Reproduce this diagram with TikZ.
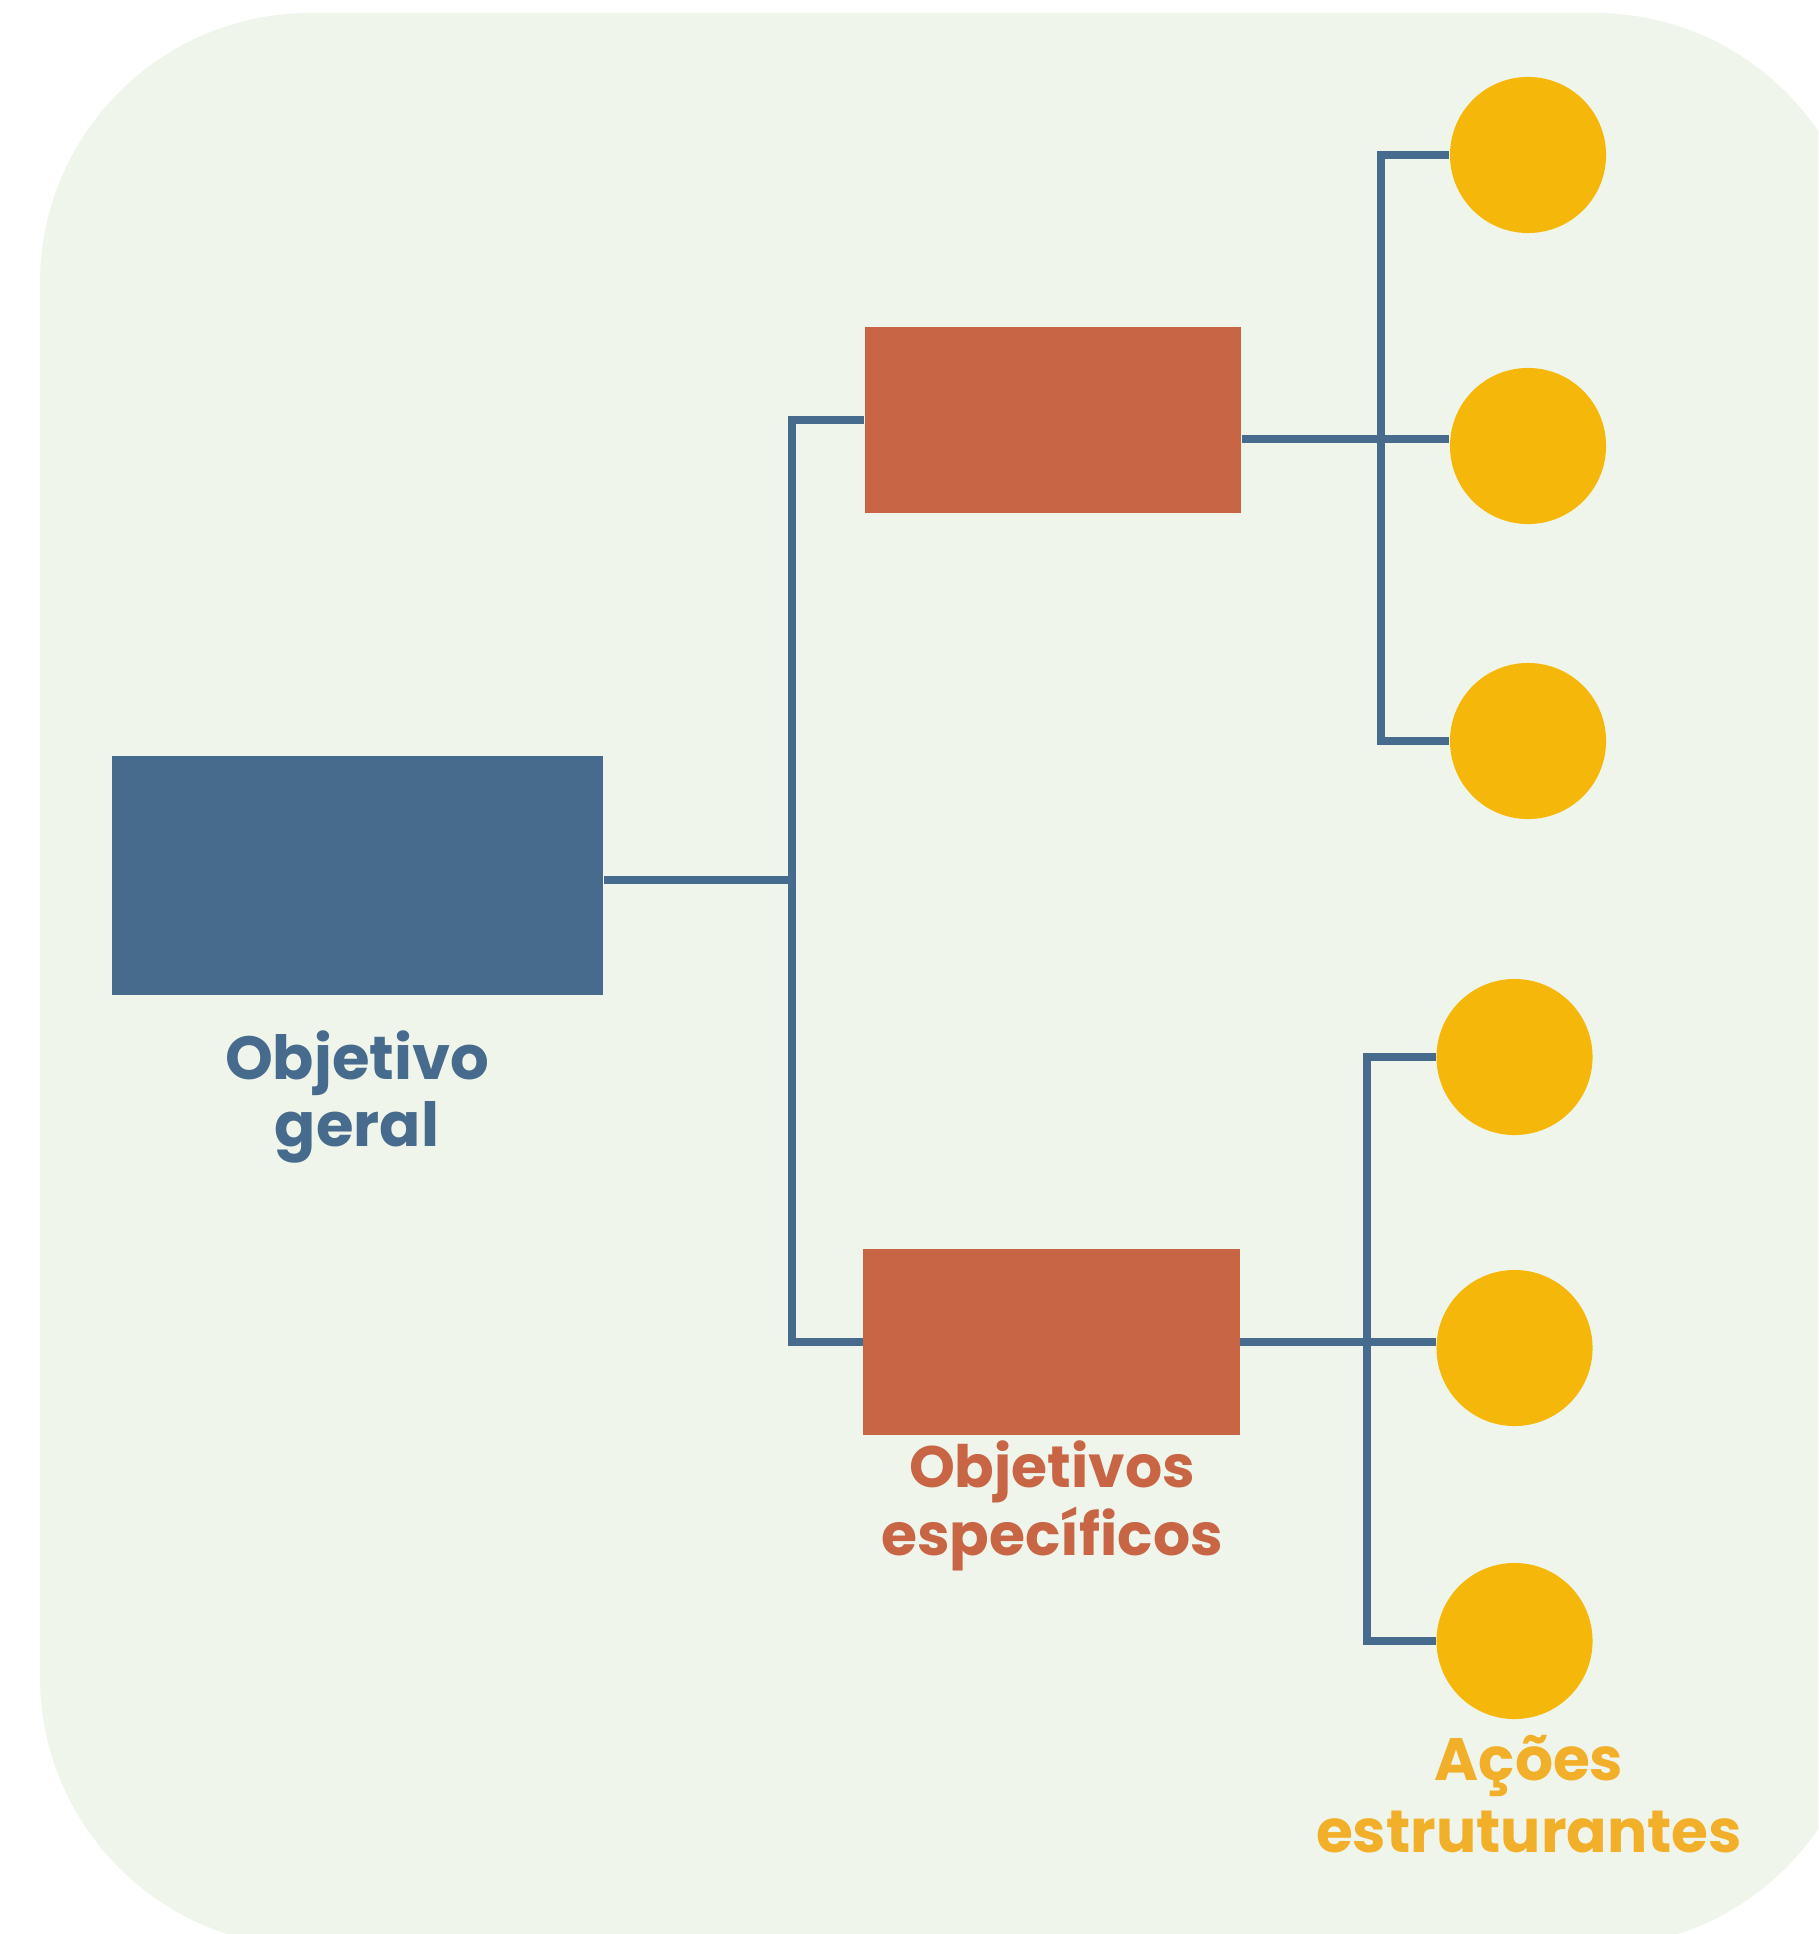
\documentclass[tikz,border=0pt]{standalone}
\usepackage{fontspec}
\setmainfont{Poppins}
\usetikzlibrary{positioning}

\definecolor{fundo}{HTML}{EFF5EB}
\definecolor{azul}{HTML}{466B8D}
\definecolor{laranja}{HTML}{C76545}
\definecolor{amarelo}{HTML}{F5B80A}
\definecolor{amarelotxt}{HTML}{F2AF29}

\begin{document}
\begin{tikzpicture}[
    x=0.01cm, y=-0.01cm,
    geral/.style={
        fill=azul,
        minimum width=4.91cm,
        minimum height=2.39cm,
        inner sep=0pt,
    },
    esp/.style={geral,fill=laranja,minimum width=3.76cm,minimum height=1.86cm,},
    acao/.style={
        circle,
        fill=amarelo,
        minimum size=1.56cm,
        inner sep=0pt,
    },
    rotulo/.style={
        align=center,
        anchor=base,
        inner sep=0pt,
        font=\bfseries\fontsize{17.3}{19}\selectfont,
    },
    ln/.style={draw=azul,line width=2.3pt},
]
    \useasboundingbox (0,0) rectangle (1818,1934);
    \clip (0,0) rectangle (1818,1934);
    % ~~~ background card ~~~~~~~~~~~~
    \fill[fundo,rounded corners=2.7cm] (40,13) rectangle (1865,1947);
    % ~~~ boxes ~~~~~~~~~~~~
    \node[geral] (ogeral) at (357.5,875.5) {};
    \node[esp] (oesp1) at (1053,420) {};
    \node[esp] (oesp2) at (1051.5,1342) {};
    \node[acao] (acao1) at (1528,155) {};
    \node[acao] (acao2) at (1528,446) {};
    \node[acao] (acao3) at (1528,741) {};
    \node[acao] (acao4) at (1514.5,1057) {};
    \node[acao] (acao5) at (1514.5,1348) {};
    \node[acao] (acao6) at (1514.5,1641) {};
    % ~~~ labels (base = last line) ~~~~~~~~~~~~
    \node[rotulo,text=azul] (lgeral) at (357,1146) {Objetivo\\geral};
    \node[rotulo,text=laranja,font=\bfseries\fontsize{16.6}{17}\selectfont] (lesp) at (1052,1555) {Objetivos\\específicos};
    \node[rotulo,text=amarelotxt,font=\bfseries\fontsize{17}{20.2}\selectfont] (lacao) at (1529,1852) {Ações\\estruturantes};
    % ~~~ connectors ~~~~~~~~~~~~
    \coordinate (bus1) at (792,880);
    \coordinate (bus2) at (1381,439);
    \coordinate (bus3) at (1367,1341);
    \draw[ln] (ogeral.east |- bus1) -- (bus1);
    \draw[ln] (oesp1.west) -| (bus1) |- (oesp2.west);
    \draw[ln] (oesp1.east |- bus2) -- (acao2.west |- bus2);
    \draw[ln] (acao1.west) -| (bus2) |- (acao3.west);
    \draw[ln] (oesp2.east) -- (oesp2.east -| acao5.west);
    \draw[ln] (acao4.west) -| (bus3) |- (acao6.west);
\end{tikzpicture}
\end{document}
